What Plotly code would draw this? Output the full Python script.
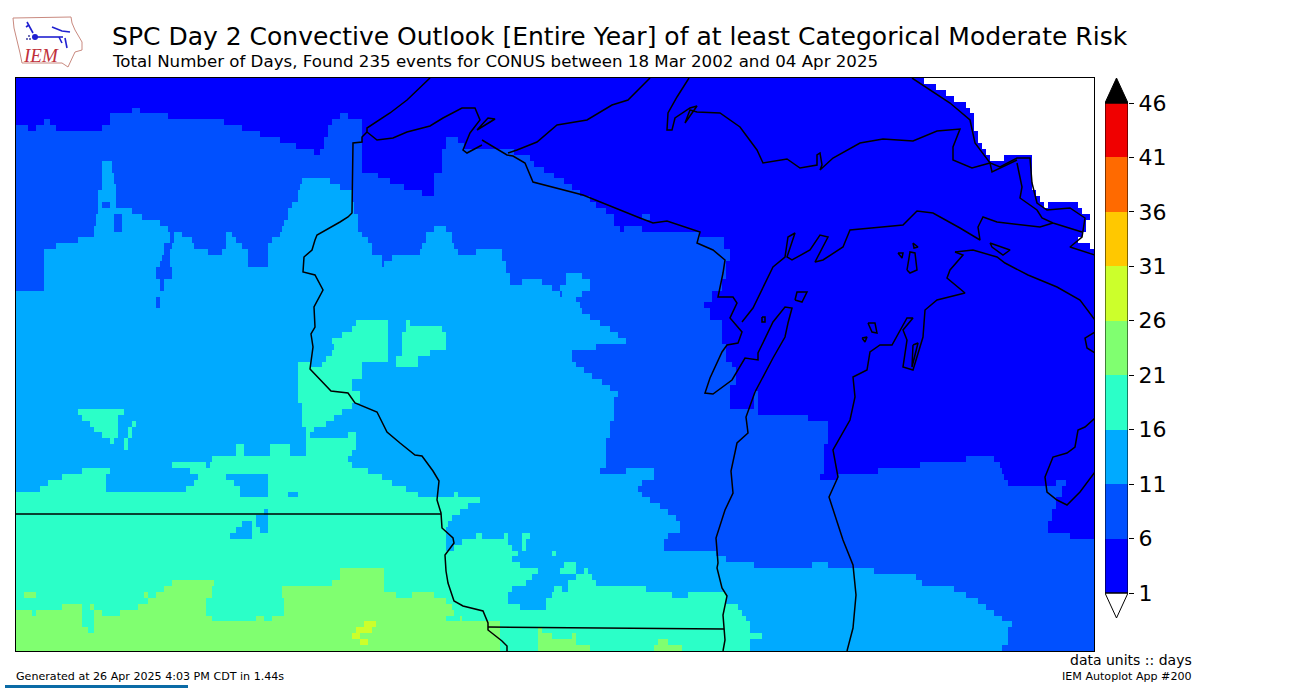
import numpy as np
import plotly.graph_objects as go

W, H = 1290, 688
MAP_X = [16, 1094]
MAP_Y = [78, 651]
CB_X = [1105, 1128]
CB_Y = [103, 593]
CB_TIP = 25

levels = [1, 6, 11, 16, 21, 26, 31, 36, 41, 46]
band_colors = ["#0000ff", "#0050ff", "#00aaff", "#2bffc8", "#80ff70",
               "#ccff2b", "#ffc800", "#ff6a00", "#f00000"]

title = "SPC Day 2 Convective Outlook [Entire Year] of at least Categorical Moderate Risk"
subtitle = "Total Number of Days, Found 235 events for CONUS between 18 Mar 2002 and 04 Apr 2025"
footer_left = "Generated at 26 Apr 2025 4:03 PM CDT in 1.44s"
footer_units = "data units :: days"
footer_app = "IEM Autoplot App #200"

# one string per grid row, north to south: band:east edge of the run, band 0 is no data
cell_rows = [
    "1:925 0:1094",
    "1:937 0:1094",
    "1:946 0:1094",
    "1:955 0:1094",
    "1:966 0:1094",
    "1:132 2:140 1:970 0:1094",
    "1:110 2:168 1:340 2:348 1:975 0:1094",
    "1:45 2:50 1:110 2:225 1:333 2:363 1:975 0:1094",
    "2:28 1:36 2:57 1:103 2:243 1:328 2:363 1:975 0:1094",
    "2:260 1:328 2:363 1:979 0:1094",
    "2:280 1:325 2:363 1:447 2:458 1:979 0:1094",
    "2:297 1:325 2:363 1:447 2:465 1:983 0:1094",
    "2:315 1:320 2:363 1:443 2:515 1:987 0:1094",
    "2:363 1:443 2:530 1:991 0:1004 1:1033 0:1094",
    "2:103 3:112 2:363 1:443 2:535 1:1033 0:1094",
    "2:103 3:112 2:363 1:443 2:545 1:1033 0:1094",
    "2:103 3:115 2:378 1:435 2:555 1:1033 0:1094",
    "2:103 3:115 2:302 3:330 2:390 1:435 2:565 1:1033 0:1094",
    "2:103 3:117 2:300 3:340 2:405 1:435 2:573 1:1033 0:1094",
    "2:99 3:116 2:298 3:352 2:423 1:435 2:580 1:1037 0:1094",
    "2:99 3:116 2:298 3:352 2:590 1:1041 0:1094",
    "2:99 3:103 2:111 3:116 2:293 3:355 2:597 1:1045 0:1049 1:1078 0:1094",
    "2:98 3:133 2:288 3:355 2:607 1:1082 0:1094",
    "2:97 3:115 2:123 3:143 2:288 3:358 2:615 1:643 2:650 1:1091 0:1094",
    "2:97 3:115 2:123 3:160 2:285 3:358 2:615 1:1086 0:1094",
    "2:95 3:115 2:123 3:168 2:283 3:358 2:435 3:447 2:620 1:625 2:643 1:1086 0:1094",
    "2:95 3:170 2:175 3:182 2:227 3:232 2:280 3:363 2:426 3:452 2:700 1:1082 0:1094",
    "2:78 3:170 2:175 3:192 2:227 3:237 2:273 3:368 2:426 3:452 2:725 1:1078 0:1094",
    "2:57 3:165 2:172 3:195 2:227 3:242 2:268 3:372 2:423 3:455 2:725 1:1091 0:1094",
    "2:45 3:165 2:170 3:208 2:223 3:248 2:268 3:372 2:420 3:458 2:477 3:502 2:730 1:1094",
    "2:45 3:163 2:170 3:248 2:268 3:382 2:393 3:502 2:730 1:1094",
    "2:45 3:161 2:170 3:248 2:268 3:382 2:385 3:507 2:727 1:1094",
    "2:45 3:157 2:172 3:507 2:727 1:1094",
    "2:45 3:157 2:172 3:510 2:567 3:583 2:727 1:1094",
    "2:45 3:161 2:165 3:510 2:522 3:542 2:567 3:590 2:723 1:1094",
    "2:45 3:161 2:165 3:552 2:560 3:590 2:723 1:1094",
    "3:560 2:563 3:583 2:713 1:1094",
    "3:157 2:161 3:577 2:713 1:1094",
    "3:157 2:161 3:580 2:705 1:1094",
    "3:583 2:710 1:1094",
    "3:590 2:710 1:1094",
    "3:357 4:389 3:407 4:410 3:600 2:722 1:1094",
    "3:352 4:389 3:407 4:443 3:610 2:722 1:1094",
    "3:343 4:389 3:402 4:447 3:618 2:722 1:1094",
    "3:332 4:389 3:402 4:447 3:626 2:722 1:1094",
    "3:335 4:389 3:402 4:447 3:597 2:727 1:1094",
    "3:332 4:389 3:402 4:430 3:572 2:727 1:1094",
    "3:327 4:389 3:397 4:418 3:572 2:727 1:1094",
    "3:298 4:311 3:323 4:363 3:397 4:418 3:577 2:732 1:1094",
    "3:298 4:363 3:585 2:737 1:1094",
    "3:298 4:363 3:593 2:737 1:1094",
    "3:298 4:352 3:602 2:737 1:1094",
    "3:298 4:352 3:610 2:730 1:1094",
    "3:298 4:360 3:618 2:730 1:755 2:758 1:1094",
    "3:298 4:360 3:614 2:730 1:755 2:758 1:1094",
    "3:302 4:352 3:614 2:730 1:755 2:758 1:1094",
    "3:78 4:124 3:302 4:343 3:614 2:758 1:1094",
    "3:82 4:119 3:302 4:335 3:614 2:808 1:1094",
    "3:90 4:119 3:132 4:136 3:302 4:327 3:610 2:829 1:1094",
    "3:95 4:119 3:128 4:132 3:306 4:315 3:610 2:829 1:1094",
    "3:103 4:119 3:128 4:132 3:306 4:310 3:348 4:357 3:610 2:829 1:1094",
    "3:111 4:115 3:124 4:128 3:306 4:357 3:606 2:829 1:1094",
    "3:124 4:128 3:237 4:245 3:270 4:290 3:306 4:357 3:606 2:825 1:1094",
    "3:237 4:245 3:270 4:290 3:306 4:353 3:606 2:825 1:1094",
    "3:213 4:348 3:606 2:825 1:966 2:995 1:1094",
    "3:173 4:207 3:211 4:353 3:606 2:825 1:920 2:1000 1:1094",
    "3:82 4:110 3:190 4:368 3:601 2:626 3:655 2:825 1:879 2:1003 1:1094",
    "3:62 4:107 3:198 4:227 3:268 4:382 3:655 2:821 1:838 2:1005 1:1094",
    "3:49 4:107 3:195 4:235 3:268 4:393 3:643 2:1008 1:1057 2:1066 1:1094",
    "3:41 4:107 3:187 4:240 3:268 4:407 3:639 2:1062 1:1094",
    "4:240 3:268 4:288 3:298 4:418 3:455 4:459 3:643 2:1062 1:1094",
    "4:480 3:650 2:1057 1:1094",
    "4:468 3:660 2:1057 1:1094",
    "4:265 3:269 4:460 3:668 2:1053 1:1094",
    "4:257 3:268 4:452 3:677 2:1053 1:1094",
    "4:243 3:252 4:257 3:268 4:448 3:680 2:1049 1:1094",
    "4:237 3:252 4:260 3:268 4:447 3:680 2:1049 1:1094",
    "4:231 3:252 4:447 3:477 4:483 3:505 4:509 3:522 4:530 3:668 2:1070 1:1094",
    "4:447 3:463 4:509 3:522 4:526 3:664 2:1094",
    "4:447 3:455 4:513 3:522 4:526 3:664 2:1094",
    "4:518 3:552 4:556 3:717 2:1094",
    "4:513 3:726 2:1094",
    "4:521 3:564 4:577 3:755 2:813 3:829 2:1094",
    "4:340 5:385 4:538 3:560 4:577 3:585 4:589 3:875 2:1094",
    "4:340 5:385 4:533 3:577 4:593 3:916 2:1094",
    "4:173 5:215 4:332 5:385 4:526 3:568 4:597 3:922 2:1094",
    "4:165 5:212 4:282 5:385 4:513 3:555 4:563 3:568 4:647 3:955 2:1094",
    "4:24 5:37 4:145 5:148 4:157 5:212 4:282 5:397 4:413 5:435 4:509 3:552 4:672 3:688 4:726 3:967 2:1094",
    "4:148 5:207 4:285 5:447 4:509 3:547 4:726 3:979 2:1094",
    "4:62 5:82 4:90 5:95 4:138 5:207 4:285 5:453 4:521 3:547 4:738 3:987 2:1094",
    "5:32 4:37 5:82 4:95 5:103 4:120 5:207 4:285 5:455 4:743 3:995 2:1094",
    "5:82 4:95 5:212 4:257 5:265 4:273 5:447 4:460 5:463 4:747 3:1003 2:1094",
    "5:83 4:95 5:365 6:377 5:501 4:751 3:1012 2:1094",
    "5:88 4:95 5:357 6:372 5:501 4:538 5:542 4:751 3:1008 2:1094",
    "5:352 6:360 5:501 4:538 5:552 4:572 5:577 4:763 3:1008 2:1094",
    "5:360 6:368 5:501 4:538 5:577 4:659 5:668 4:751 3:1008 2:1094",
    "5:501 4:538 5:590 4:655 5:683 4:751 3:1003 2:1094",
]

# state lines and coasts, in map units
mn_wi_border = [(367, 132), (362, 137), (362, 142), (353, 143), (352, 213), (348, 217), (340, 222), (330, 228),
                (317, 235), (315, 240), (312, 250), (304, 257), (303, 272), (315, 275), (323, 290), (314, 307),
                (315, 327), (311, 334), (313, 347), (310, 369), (323, 382), (331, 391), (348, 393), (355, 403),
                (377, 412), (387, 432), (400, 443), (415, 455), (422, 456), (433, 471), (439, 481), (437, 500),
                (441, 513), (442, 528), (453, 538), (454, 543), (445, 555), (446, 571), (448, 583), (454, 601),
                (463, 606), (483, 611), (488, 623), (488, 630), (502, 641), (507, 646), (507, 651)]
ia_mn_border = [(16, 514), (441, 514)]
wi_il_border = [(488, 627), (724, 629)]
north_shore = [(430, 78), (407, 100), (390, 113), (367, 128), (367, 132), (377, 140), (393, 138), (407, 132),
               (430, 126), (443, 118), (462, 108), (475, 108), (480, 120), (470, 133), (463, 150), (467, 153),
               (482, 145)]
wi_mi_border = [(482, 140), (507, 155), (513, 156), (525, 163), (533, 182), (583, 195), (640, 218), (653, 223),
                (667, 221), (700, 232), (697, 243), (713, 250), (725, 260), (723, 273), (718, 297), (733, 297),
                (737, 303), (730, 318), (742, 332), (738, 343), (727, 345), (722, 352), (710, 378), (705, 393),
                (713, 394), (732, 380), (745, 358), (758, 360), (758, 353), (773, 322), (785, 307), (792, 308),
                (788, 323), (785, 337), (773, 358), (755, 392), (746, 417), (748, 433), (737, 443), (731, 471),
                (733, 493), (725, 510), (716, 538), (718, 563), (717, 568), (722, 588), (727, 596), (723, 615),
                (725, 640), (723, 651)]
up_superior = [(508, 153), (517, 150), (537, 142), (557, 125), (587, 120), (612, 105), (628, 100), (650, 78)]
keweenaw = [(689, 78), (677, 97), (668, 113), (667, 130), (672, 130), (675, 118), (690, 108), (697, 106), (685, 123),
            (690, 110), (697, 112), (720, 113), (740, 127), (757, 150), (763, 163), (787, 159), (800, 168), (817, 165),
            (817, 155), (820, 153), (822, 165), (820, 170), (833, 158), (850, 149), (860, 143), (883, 139), (913, 141),
            (937, 131), (960, 129), (953, 147), (953, 160), (972, 168), (990, 163), (992, 172), (1017, 160)]
ontario_shore = [(912, 78), (950, 103), (970, 120), (975, 143), (990, 163), (1000, 167), (1017, 158), (1030, 158),
                 (1032, 183), (1037, 203), (1047, 210), (1070, 208), (1085, 218), (1082, 237), (1070, 247), (1095, 255)]
st_marys = [(1017, 163), (1022, 187), (1020, 198), (1037, 210), (1042, 218), (1053, 223), (1082, 232)]
up_michigan_shore = [(1053, 223), (1040, 227), (997, 222), (983, 217), (978, 227), (980, 240), (960, 228), (933, 213),
                     (917, 211), (903, 225), (882, 227), (850, 230), (843, 247), (823, 260), (815, 262), (828, 237),
                     (820, 235), (810, 250), (792, 260), (787, 257), (795, 233), (788, 237), (785, 257), (773, 267),
                     (753, 308), (742, 322)]
lower_mi_north = [(955, 252), (973, 250), (997, 257), (1005, 263), (1028, 275), (1057, 287), (1080, 300), (1095, 320)]
lower_mi_west = [(955, 252), (963, 255), (950, 270), (947, 278), (965, 293), (937, 300), (925, 310), (923, 337),
                 (913, 370), (903, 367), (907, 340), (903, 330), (913, 318), (907, 318), (892, 345), (880, 345),
                 (870, 352), (867, 370), (853, 377), (855, 397), (850, 420), (833, 450), (838, 477), (829, 497),
                 (843, 540), (853, 565), (856, 595), (853, 628), (847, 651)]
saginaw_north = [(1095, 332), (1085, 338), (1087, 348), (1095, 353)]
thumb = [(1095, 418), (1085, 427), (1078, 430), (1075, 447), (1067, 453), (1053, 457), (1045, 477), (1047, 492),
         (1057, 500), (1067, 505), (1080, 492), (1095, 472)]
apostle = [(477, 130), (495, 119), (488, 118), (477, 130)]
island_a = [(795, 300), (797, 292), (807, 292), (802, 302), (795, 300)]
island_b = [(762, 317), (765, 317), (765, 322), (762, 322), (762, 317)]
island_c = [(898, 253), (902, 258), (903, 253), (898, 253)]
island_d = [(907, 270), (910, 252), (915, 253), (917, 270), (910, 273), (907, 270)]
island_e = [(913, 243), (918, 247), (914, 248), (913, 243)]
island_f = [(990, 243), (1010, 250), (1003, 255), (992, 247), (990, 243)]
island_g = [(868, 323), (875, 323), (877, 333), (872, 332), (868, 323)]
island_h = [(862, 338), (867, 337), (865, 342), (862, 338)]
island_i = [(913, 345), (918, 343), (912, 367), (913, 345)]
map_lines = [mn_wi_border, ia_mn_border, wi_il_border, north_shore, wi_mi_border, up_superior, keweenaw, ontario_shore,
             st_marys, up_michigan_shore, lower_mi_north, lower_mi_west, saginaw_north, thumb, apostle, island_a,
             island_b, island_c, island_d, island_e, island_f, island_g, island_h, island_i]

# logo pieces
logo_iowa = [(13, 18), (71, 17), (72, 23), (75, 30), (82, 42), (82, 50), (75, 52), (72, 58), (68, 67), (62, 63),
             (22, 63), (20, 53), (17, 40), (14, 28), (13, 18)]
logo_bar = [(33, 37), (63, 37)]
logo_left = [(27, 22), (33, 33)]
logo_fork = [(29, 25), (26, 27)]
logo_right = [(52, 27), (62, 31), (70, 32)]
logo_tail = [(59, 37), (62, 43)]
logo_tail2 = [(65, 38), (67, 48)]
logo_dot = [(35, 37)]
logo_specks = [(27, 39), (29, 36), (30, 39)]


def build_grid():
    xs = np.arange(MAP_X[0] + 1, MAP_X[1], 2)
    step = (MAP_Y[1] - MAP_Y[0]) / len(cell_rows)
    ys = MAP_Y[0] + step * (np.arange(len(cell_rows)) + 0.5)
    z = np.full((len(ys), len(xs)), np.nan)
    for i, row in enumerate(cell_rows):
        start = MAP_X[0]
        for run in row.split():
            band, end = run.split(":")
            band, end = int(band), int(end)
            if band > 0:
                z[i, (xs >= start) & (xs < end)] = levels[band - 1] + 2.5
            start = end
    return xs, ys, z


def band_scale():
    scale = []
    span = levels[-1] - levels[0]
    for i, color in enumerate(band_colors):
        scale.append([(levels[i] - levels[0]) / span, color])
        scale.append([(levels[i + 1] - levels[0]) / span, color])
    return scale


xs, ys, z = build_grid()
fig = go.Figure()

fig.add_trace(go.Heatmap(x=xs, y=ys, z=z, colorscale=band_scale(), zmin=levels[0], zmax=levels[-1],
                         showscale=False, hoverinfo="skip", xaxis="x", yaxis="y"))
for line in map_lines:
    fig.add_trace(go.Scatter(x=[p[0] for p in line], y=[p[1] for p in line], mode="lines",
                             line=dict(color="black", width=1.5), hoverinfo="skip", xaxis="x", yaxis="y"))

# colour bar, the axis runs on past both ends so the tips fit
per_px = (levels[-1] - levels[0]) / (CB_Y[1] - CB_Y[0])
tip = CB_TIP * per_px
mids = [(levels[i] + levels[i + 1]) / 2 for i in range(len(band_colors))]
fig.add_trace(go.Heatmap(x=[0, 1], y=levels, z=[[m] for m in mids], colorscale=band_scale(),
                         zmin=levels[0], zmax=levels[-1], showscale=False, hoverinfo="skip",
                         xaxis="x2", yaxis="y2"))
fig.add_trace(go.Scatter(x=[0, 0.5, 1, 0], y=[levels[-1], levels[-1] + tip, levels[-1], levels[-1]],
                         mode="lines", fill="toself", fillcolor="black", line=dict(color="black", width=1),
                         cliponaxis=False, hoverinfo="skip", xaxis="x2", yaxis="y2"))
fig.add_trace(go.Scatter(x=[0, 0.5, 1, 0], y=[levels[0], levels[0] - tip, levels[0], levels[0]],
                         mode="lines", fill="toself", fillcolor="white", line=dict(color="black", width=1),
                         cliponaxis=False, hoverinfo="skip", xaxis="x2", yaxis="y2"))
fig.add_trace(go.Scatter(x=[0, 1, 1, 0, 0], y=[levels[0], levels[0], levels[-1], levels[-1], levels[0]],
                         mode="lines", line=dict(color="black", width=1),
                         cliponaxis=False, hoverinfo="skip", xaxis="x2", yaxis="y2"))

# logo goes on a full page overlay
fig.add_trace(go.Scatter(x=[p[0] for p in logo_iowa], y=[p[1] for p in logo_iowa], mode="lines",
                         line=dict(color="#c98a80", width=1), hoverinfo="skip", xaxis="x3", yaxis="y3"))
for piece in [logo_bar, logo_left, logo_fork, logo_right, logo_tail, logo_tail2]:
    fig.add_trace(go.Scatter(x=[p[0] for p in piece], y=[p[1] for p in piece], mode="lines",
                             line=dict(color="#2020d0", width=1.6), hoverinfo="skip", xaxis="x3", yaxis="y3"))
fig.add_trace(go.Scatter(x=[p[0] for p in logo_dot], y=[p[1] for p in logo_dot], mode="markers",
                         marker=dict(color="#2020d0", size=6), hoverinfo="skip", xaxis="x3", yaxis="y3"))
fig.add_trace(go.Scatter(x=[p[0] for p in logo_specks], y=[p[1] for p in logo_specks], mode="markers",
                         marker=dict(color="#4040a0", size=2), hoverinfo="skip", xaxis="x3", yaxis="y3"))


def page_text(x, y, text, size, anchor="left", color="black", family="DejaVu Sans"):
    return dict(x=x / W, y=1 - y / H, xref="paper", yref="paper", text=text, showarrow=False, xanchor=anchor,
                yanchor="middle", borderpad=0, font=dict(size=size, color=color, family=family))


hidden = dict(visible=False, fixedrange=True)
fig.update_layout(
    width=W, height=H,
    margin=dict(l=0, r=0, t=0, b=0, autoexpand=False),
    paper_bgcolor="white", plot_bgcolor="rgba(0,0,0,0)",
    showlegend=False,
    xaxis=dict(domain=[MAP_X[0] / W, MAP_X[1] / W], range=MAP_X, showticklabels=False, ticks="", showgrid=False,
               zeroline=False, showline=True, mirror=True, linecolor="black", linewidth=1),
    yaxis=dict(domain=[1 - MAP_Y[1] / H, 1 - MAP_Y[0] / H], range=MAP_Y[::-1], showticklabels=False, ticks="",
               showgrid=False, zeroline=False, showline=True, mirror=True, linecolor="black", linewidth=1),
    xaxis2=dict(domain=[CB_X[0] / W, CB_X[1] / W], range=[0, 1], anchor="y2", visible=False),
    yaxis2=dict(domain=[1 - (CB_Y[1] + CB_TIP) / H, 1 - (CB_Y[0] - CB_TIP) / H],
                range=[levels[0] - tip, levels[-1] + tip], anchor="x2", side="right",
                tickvals=levels, ticktext=[str(v) for v in levels], ticks="outside", ticklen=5, tickcolor="black",
                tickfont=dict(size=22, family="DejaVu Sans", color="black"), showgrid=False, zeroline=False,
                showline=False),
    xaxis3=dict(domain=[0, 1], range=[0, W], anchor="y3", **hidden),
    yaxis3=dict(domain=[0, 1], range=[H, 0], anchor="x3", **hidden),
    shapes=[dict(type="rect", xref="paper", yref="paper", x0=5 / W, x1=188 / W, y0=0, y1=3 / H, fillcolor="#0b6ba6",
                 line_width=0)],
    annotations=[
        page_text(111, 37, title, 25.03),
        page_text(111, 62, subtitle, 16.65),
        page_text(15, 676, footer_left, 11.1),
        page_text(1193, 660, footer_units, 14, anchor="right"),
        page_text(1193, 676, footer_app, 11.1, anchor="right"),
        page_text(41, 55, "<i>IEM</i>", 19, anchor="center", color="#c0303a", family="Liberation Serif"),
    ],
)

fig.write_html("out.html", config=dict(displayModeBar=False), post_script="document.body.style.margin='0';")
